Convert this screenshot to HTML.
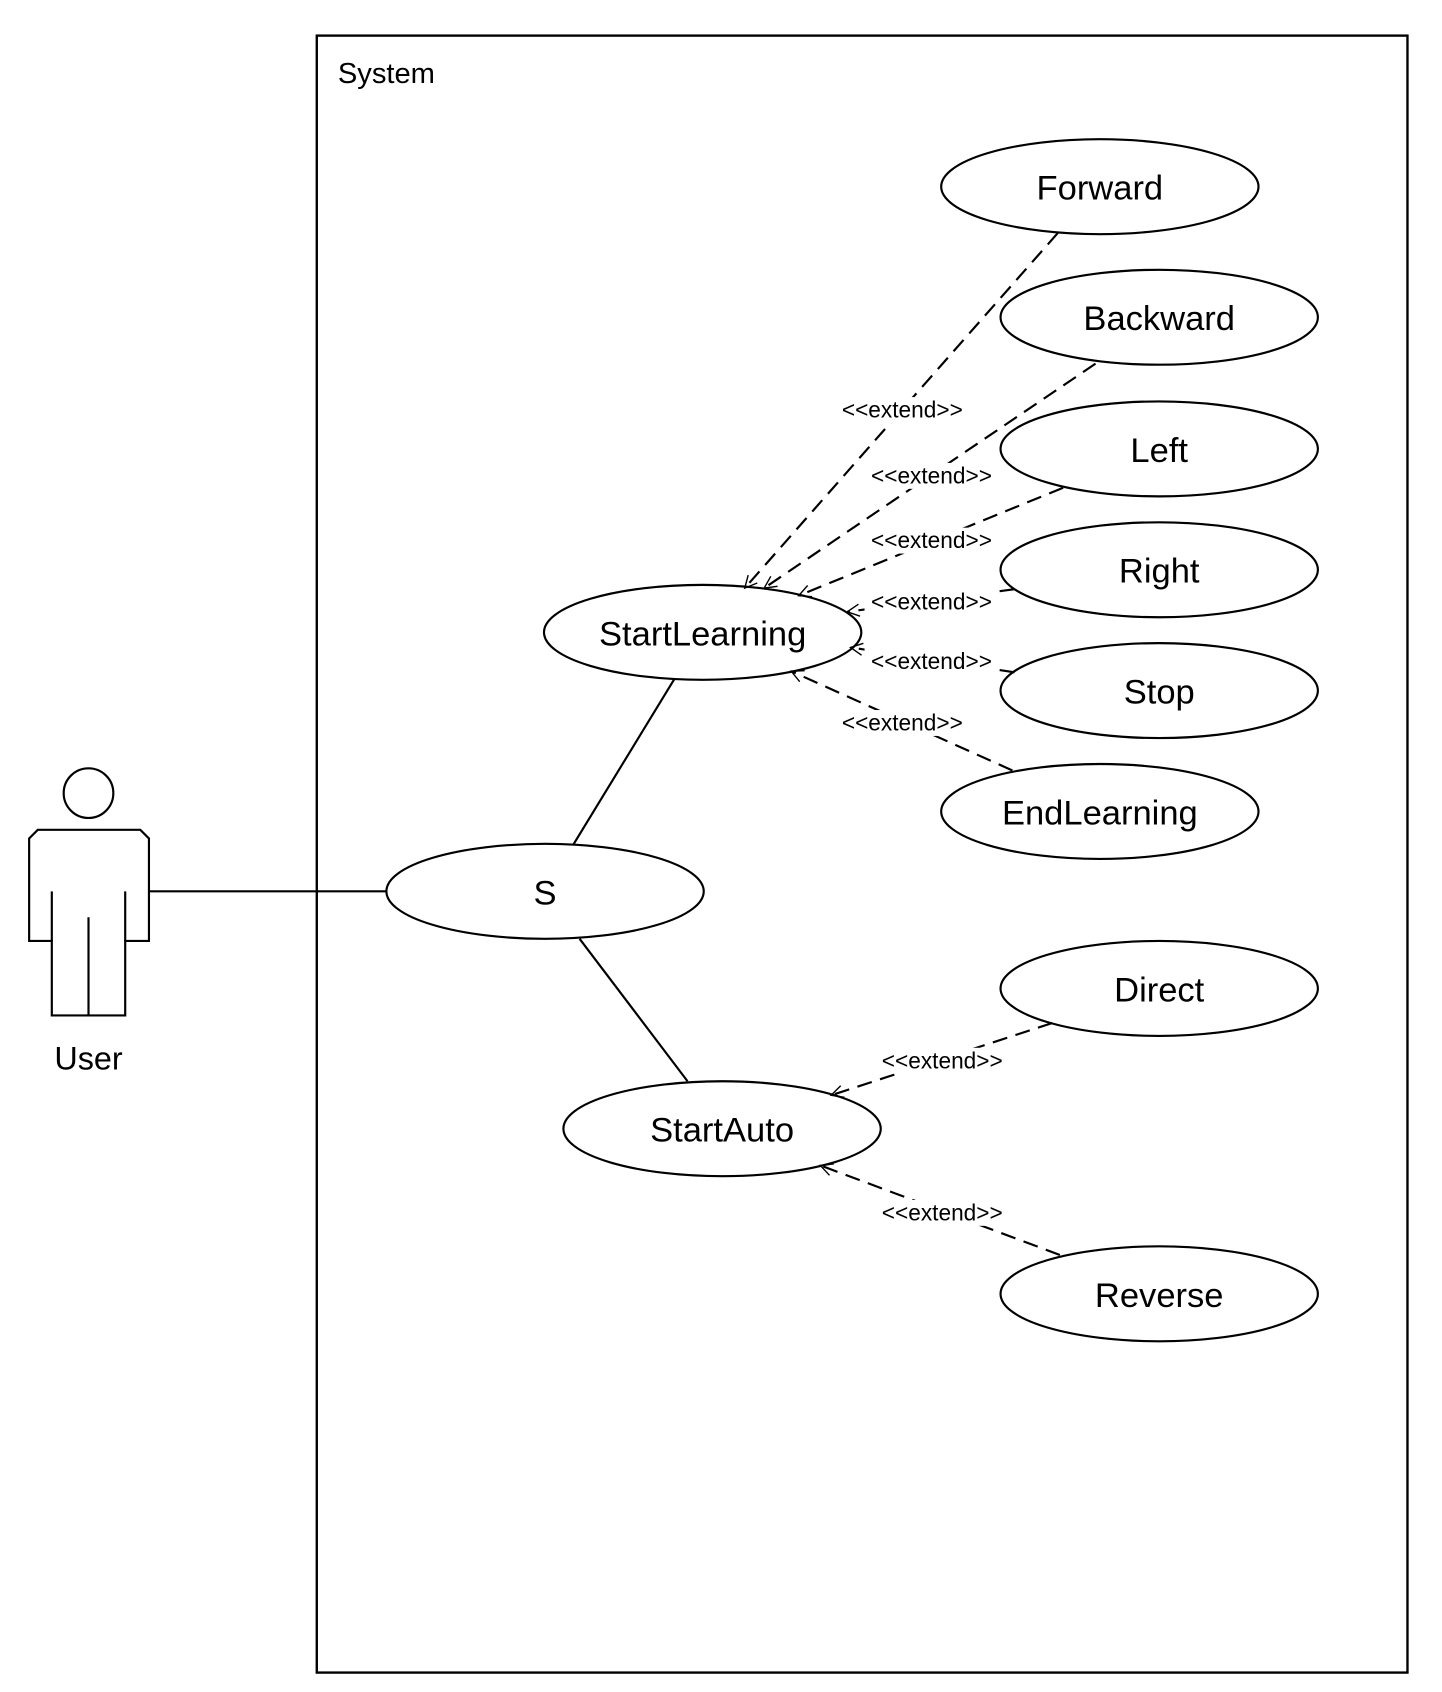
<!DOCTYPE html>
<html><head><meta charset="utf-8"><style>
html,body{margin:0;padding:0;background:#fff;}
svg{display:block;}
text{font-family:"Liberation Sans",sans-serif;fill:#000;}
</style></head><body>
<svg width="1442" height="1692" viewBox="0 0 1336 1568" preserveAspectRatio="none" xmlns="http://www.w3.org/2000/svg">
<defs>
<marker id="a" viewBox="0 0 20 20" refX="18" refY="10" markerWidth="16" markerHeight="16" markerUnits="userSpaceOnUse" orient="auto">
<path d="M4,3 L18,10 L4,17" fill="none" stroke="#000" stroke-width="1.6"/>
</marker>
</defs>
<rect x="293.5" y="33" width="1010.5" height="1517" fill="none" stroke="#000" stroke-width="2.2"/>
<text x="313" y="77" font-size="27">System</text>

<g fill="none" stroke="#000" stroke-width="2">
<circle cx="82" cy="735" r="23"/>
<path d="M35,769 L130,769 L138,777 L138,872 L116,872 L116,941 L48,941 L48,872 L27,872 L27,777 Z"/>
<path d="M48,826 L48,872 M116,826 L116,872 M82,850 L82,941"/>
<path d="M138,826 L358,826 M531,783 L625,629 M537,870 L637,1002"/>
</g>
<text x="82" y="991" font-size="30" text-anchor="middle">User</text>

<g fill="#fff" stroke="#000" stroke-width="2">
<ellipse cx="1019" cy="173" rx="147" ry="44"/>
<ellipse cx="1074" cy="294" rx="147" ry="44"/>
<ellipse cx="1074" cy="416" rx="147" ry="44"/>
<ellipse cx="1074" cy="528" rx="147" ry="44"/>
<ellipse cx="1074" cy="640" rx="147" ry="44"/>
<ellipse cx="1019" cy="752" rx="147" ry="44"/>
<ellipse cx="651" cy="586" rx="147" ry="44"/>
<ellipse cx="505" cy="826" rx="147" ry="44"/>
<ellipse cx="1074" cy="916" rx="147" ry="44"/>
<ellipse cx="669" cy="1046" rx="147" ry="44"/>
<ellipse cx="1074" cy="1199" rx="147" ry="44"/>
</g>

<g fill="none" stroke="#000" stroke-width="2" stroke-dasharray="14,8" marker-end="url(#a)">
<path d="M980,216 L690,545"/>
<path d="M1015,337 L708,545"/>
<path d="M985,452 L740,552"/>
<path d="M940,546 L785,567"/>
<path d="M940,623 L788,600"/>
<path d="M938,714 L733,622"/>
<path d="M975,948 L770,1015"/>
<path d="M982,1163 L760,1080"/>
</g>

<g font-size="21" text-anchor="middle">
<g fill="#fff" stroke="none">
<rect x="774" y="368" width="124" height="24"/>
<rect x="801" y="429" width="124" height="24"/>
<rect x="801" y="489" width="124" height="24"/>
<rect x="801" y="546" width="124" height="24"/>
<rect x="801" y="601" width="124" height="24"/>
<rect x="774" y="658" width="124" height="24"/>
<rect x="811" y="971" width="124" height="24"/>
<rect x="811" y="1112" width="124" height="24"/>
</g>
<text x="836" y="387">&lt;&lt;extend&gt;&gt;</text>
<text x="863" y="448">&lt;&lt;extend&gt;&gt;</text>
<text x="863" y="508">&lt;&lt;extend&gt;&gt;</text>
<text x="863" y="565">&lt;&lt;extend&gt;&gt;</text>
<text x="863" y="620">&lt;&lt;extend&gt;&gt;</text>
<text x="836" y="677">&lt;&lt;extend&gt;&gt;</text>
<text x="873" y="990">&lt;&lt;extend&gt;&gt;</text>
<text x="873" y="1131">&lt;&lt;extend&gt;&gt;</text>
</g>

<g font-size="32" text-anchor="middle">
<text x="1019" y="185">Forward</text>
<text x="1074" y="306">Backward</text>
<text x="1074" y="428">Left</text>
<text x="1074" y="540">Right</text>
<text x="1074" y="652">Stop</text>
<text x="1019" y="764">EndLearning</text>
<text x="651" y="598">StartLearning</text>
<text x="505" y="838">S</text>
<text x="1074" y="928">Direct</text>
<text x="669" y="1058">StartAuto</text>
<text x="1074" y="1211">Reverse</text>
</g>
</svg>
</body></html>
